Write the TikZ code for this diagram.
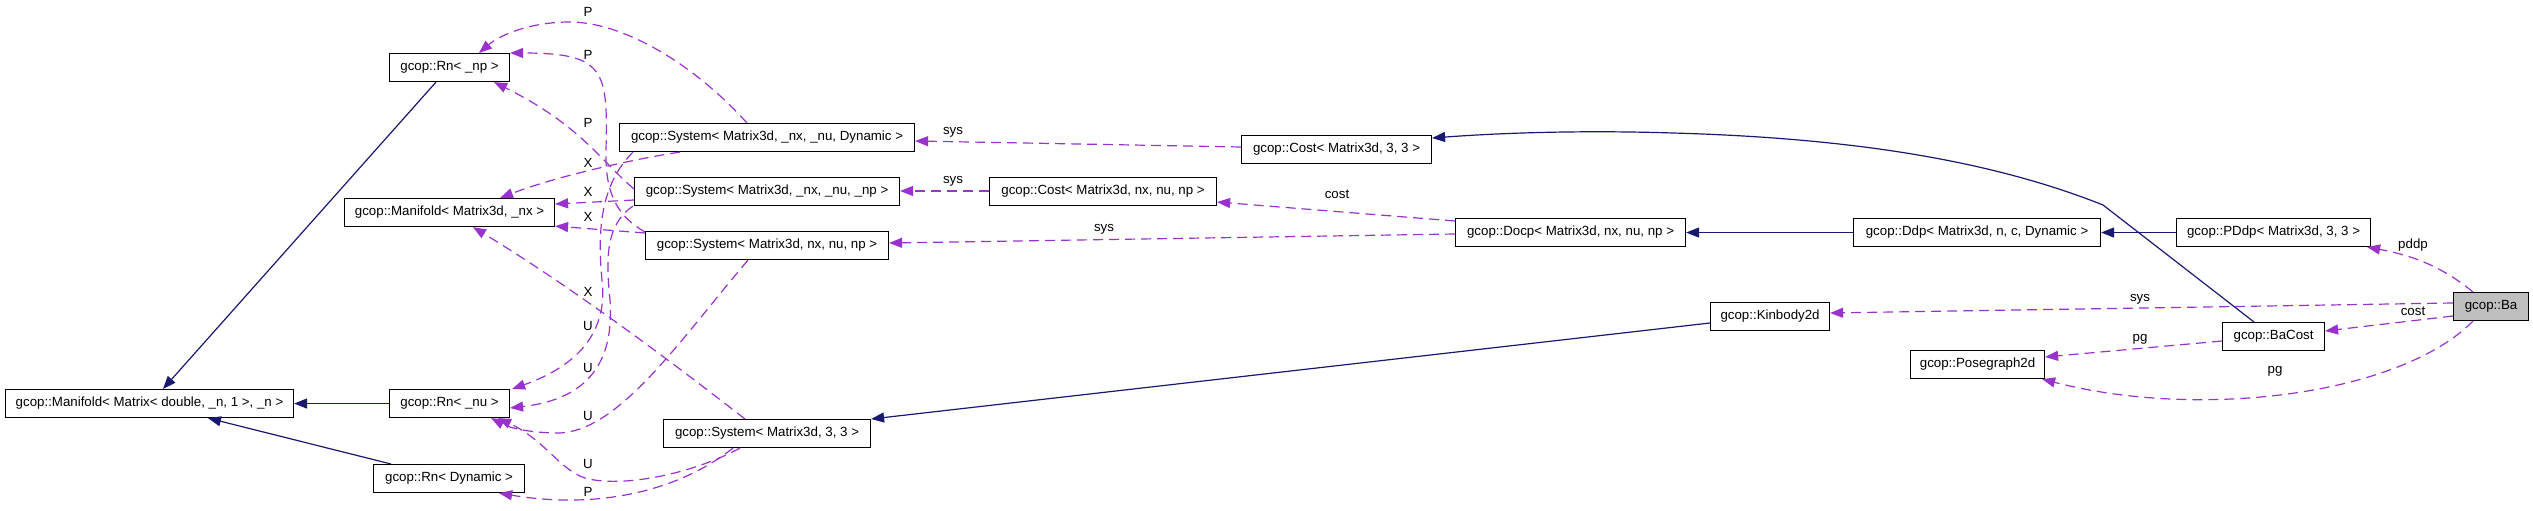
\documentclass[tikz,border=0pt]{standalone}
\usepackage{fontspec}
\setmainfont{Liberation Sans}
\usetikzlibrary{arrows.meta}
\definecolor{inhc}{HTML}{191970}
\definecolor{usec}{HTML}{9A32CD}
\definecolor{focus}{HTML}{BFBFBF}
\begin{document}
\begin{tikzpicture}[x=1pt,y=-1pt,
  box/.style={draw=black, line width=1.1pt, fill=white, anchor=north west, minimum height=28pt, inner sep=0pt, font=\fontsize{13.3}{16}\selectfont},
  inh/.style={draw=inhc, line width=1.2pt, -{Triangle[length=13pt,width=10pt]}},
  use/.style={draw=usec, line width=1.2pt, dash pattern=on 10pt off 6pt, -{Triangle[length=13pt,width=10pt]}},
  lbl/.style={font=\fontsize{13.3}{16}\selectfont, inner sep=0pt}]
\useasboundingbox (0,0) rectangle (2533,511);

% nodes
\node[box, minimum width=288pt] (manD) at (5,389) {gcop::Manifold< Matrix< double, \_n, 1 >, \_n >};
\node[box, minimum width=120pt] (rnp) at (389,53) {gcop::Rn< \_np >};
\node[box, minimum width=210pt] (man3) at (344,198) {gcop::Manifold< Matrix3d, \_nx >};
\node[box, minimum width=120pt] (rnu) at (389,389) {gcop::Rn< \_nu >};
\node[box, minimum width=151pt] (rnd) at (373,464) {gcop::Rn< Dynamic >};
\node[box, minimum width=295pt] (sysDyn) at (619,123) {gcop::System< Matrix3d, \_nx, \_nu, Dynamic >};
\node[box, minimum width=265pt] (sysNp) at (634,177) {gcop::System< Matrix3d, \_nx, \_nu, \_np >};
\node[box, minimum width=243pt] (sysNx) at (645,231) {gcop::System< Matrix3d, nx, nu, np >};
\node[box, minimum width=207pt] (sys33) at (663,419) {gcop::System< Matrix3d, 3, 3 >};
\node[box, minimum width=227pt] (costNx) at (989,177) {gcop::Cost< Matrix3d, nx, nu, np >};
\node[box, minimum width=190pt] (cost33) at (1241,135) {gcop::Cost< Matrix3d, 3, 3 >};
\node[box, minimum width=230pt] (docp) at (1455,218) {gcop::Docp< Matrix3d, nx, nu, np >};
\node[box, minimum width=247pt] (ddp) at (1853,218) {gcop::Ddp< Matrix3d, n, c, Dynamic >};
\node[box, minimum width=194pt] (pddp) at (2176,218) {gcop::PDdp< Matrix3d, 3, 3 >};
\node[box, minimum width=119pt] (kin) at (1710,302) {gcop::Kinbody2d};
\node[box, minimum width=102pt] (bacost) at (2222,322) {gcop::BaCost};
\node[box, minimum width=134pt] (pg) at (1910,350) {gcop::Posegraph2d};
\node[box, minimum width=75pt, fill=focus] (ba) at (2453,292) {gcop::Ba};

% inheritance
\draw[inh] ([shift={(47,0)}]rnp.south west) -- ([shift={(158,0)}]manD.north west);
\draw[inh] (rnu.west) -- (manD.east);
\draw[inh] ([shift={(18,0)}]rnd.north west) -- ([shift={(203,0)}]manD.south west);
\draw[inh] ([shift={(0,21)}]kin.north west) -- (sys33.north east);
\draw[inh] ([shift={(32,0)}]bacost.north west) -- (2103,205) .. controls (1990,160) and (1850,138) .. (1673,133) .. controls (1580,130) and (1500,133) .. ([shift={(0,3)}]cost33.north east);
\draw[inh] (ddp.west) -- (docp.east);
\draw[inh] (pddp.west) -- (ddp.east);

% usage
\draw[use] ([shift={(20,0)}]ba.north west) .. controls (2440,265) and (2410,255) .. ([shift={(-4,0)}]pddp.south east);
\draw[use] ([shift={(0,11)}]ba.north west) -- ([shift={(0,11)}]kin.north east);
\draw[use] ([shift={(0,24)}]ba.north west) -- ([shift={(0,9)}]bacost.north east);
\draw[use] ([shift={(20,0)}]ba.south west) .. controls (2400,395) and (2200,420) .. ([shift={(-3,0)}]pg.south east);
\draw[use] ([shift={(0,19)}]bacost.north west) -- ([shift={(0,7)}]pg.north east);
\draw[use] ([shift={(0,3)}]docp.north west) -- ([shift={(0,25)}]costNx.north east);
\draw[use] ([shift={(0,16)}]docp.north west) -- ([shift={(0,12)}]sysNx.north east);
\draw[use] ([shift={(0,12)}]cost33.north west) -- ([shift={(0,18)}]sysDyn.north east);
\draw[use] ([shift={(0,14)}]costNx.north west) -- ([shift={(0,14)}]sysNp.north east);

% system members
\draw[use] ([shift={(128,0)}]sysDyn.north west) .. controls (690,60) and (620,22) .. (570,22) .. controls (530,22) and (500,35) .. ([shift={(90,0)}]rnp.north west);
\draw[use] ([shift={(0,1)}]sysNx.north west) .. controls (615,215) and (605,190) .. (606,150) .. controls (608,70) and (605,53) .. (rnp.north east);
\draw[use] ([shift={(0,12)}]sysNp.north west) .. controls (600,160) and (580,125) .. ([shift={(-16,0)}]rnp.south east);
\draw[use] ([shift={(61,0)}]sysDyn.south west) .. controls (640,158) and (560,175) .. ([shift={(156,0)}]man3.north west);
\draw[use] ([shift={(0,23)}]sysNp.north west) -- ([shift={(0,6)}]man3.north east);
\draw[use] ([shift={(0,2)}]sysNx.north west) -- ([shift={(0,-1)}]man3.south east);
\draw[use] ([shift={(82,0)}]sys33.north west) .. controls (650,345) and (560,280) .. ([shift={(129,0)}]man3.south west);
\draw[use] ([shift={(14,0)}]sysDyn.south west) .. controls (605,180) and (596,220) .. (602,280) .. controls (608,330) and (580,365) .. ([shift={(2,0)}]rnu.north east);
\draw[use] ([shift={(-1,0)}]sysNp.south west) .. controls (605,225) and (606,260) .. (610,300) .. controls (615,370) and (580,400) .. ([shift={(0,19)}]rnu.north east);
\draw[use] ([shift={(103,0)}]sysNx.south west) .. controls (680,340) and (620,430) .. (560,433) .. controls (530,433) and (510,428) .. ([shift={(-19,0)}]rnu.south east);
\draw[use] ([shift={(77,0)}]sys33.south west) .. controls (690,475) and (620,488) .. (585,478) .. controls (560,470) and (545,440) .. ([shift={(-12,0)}]rnu.south east);
\draw[use] ([shift={(70,0)}]sys33.south west) .. controls (680,490) and (600,510) .. ([shift={(-26,0)}]rnd.south east);

% labels
\node[lbl] (l1) at (588,12) {P};
\node[lbl] (l2) at (588,55) {P};
\node[lbl] (l3) at (588,123) {P};
\node[lbl] (l4) at (588,163) {X};
\node[lbl] (l5) at (588,192) {X};
\node[lbl] (l6) at (588,217) {X};
\node[lbl] (l7) at (588,292) {X};
\node[lbl] (l8) at (588,326) {U};
\node[lbl] (l9) at (588,368) {U};
\node[lbl] (l10) at (588,416) {U};
\node[lbl] (l11) at (588,464) {U};
\node[lbl] (l12) at (588,492) {P};
\node[lbl] (l13) at (953,132) {sys};
\node[lbl] (l14) at (953,181) {sys};
\node[lbl] (l15) at (1104,229) {sys};
\node[lbl] (l16) at (1337,194) {cost};
\node[lbl] (l17) at (2140,299) {sys};
\node[lbl] (l18) at (2413,245) {pddp};
\node[lbl] (l19) at (2413,311) {cost};
\node[lbl] (l20) at (2140,339) {pg};
\node[lbl] (l21) at (2275,371) {pg};
\end{tikzpicture}
\end{document}
